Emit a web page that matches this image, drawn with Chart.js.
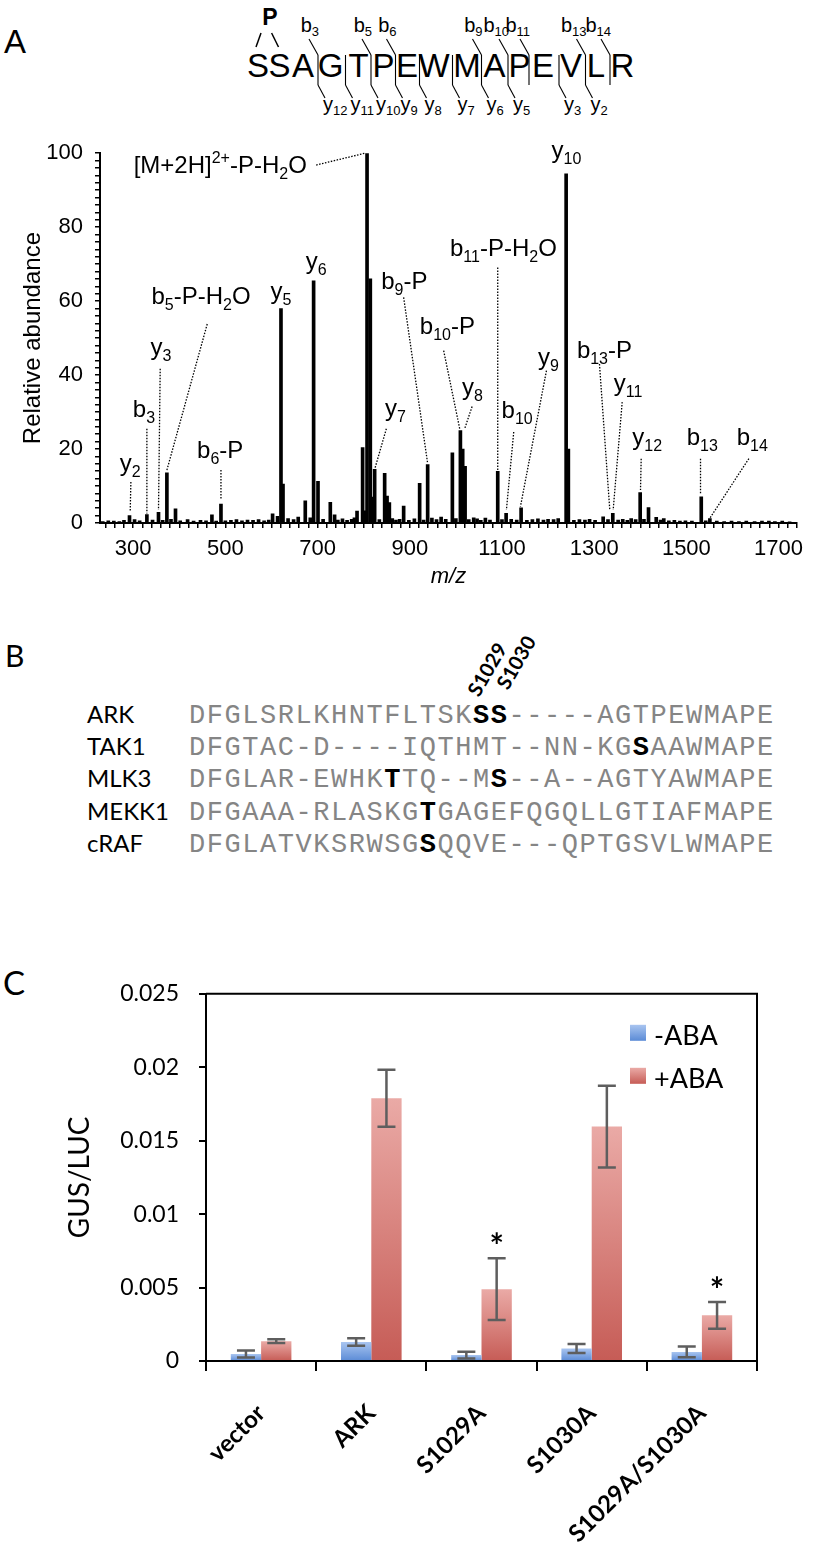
<!DOCTYPE html>
<html>
<head>
<meta charset="utf-8">
<title>ARK S1029/S1030 phosphorylation</title>
<script src="https://cdn.jsdelivr.net/npm/chart.js@4.4.1/dist/chart.umd.min.js"></script>
<style>
  body { margin: 0; background: #fff; }
  #page { position: relative; width: 815px; height: 1546px; overflow: hidden; }
  #art, canvas { position: absolute; left: 0; }
  #art { top: 0; }
  #specChart { top: 128px; }
  #gusChart { top: 960px; }
</style>
</head>
<body>
<div id="page">
  <svg id="art" width="815" height="1546"></svg>
  <canvas id="specChart" width="815" height="470"></canvas>
  <canvas id="gusChart" width="815" height="586"></canvas>
</div>
<script>
// ---------- Panel A data: MS/MS spectrum ----------
const peakMz = [292, 329.7, 354.9, 373.1, 391.8, 470.8, 490.4, 602.4, 613.2, 620.6, 625,
  673.3, 684.2, 691.4, 700.9, 727.6, 736.9, 785.6, 797.7, 802.1, 807.3, 814.4, 819.4, 823.8,
  845.5, 850.7, 855.7, 886.7, 921.4, 938.8, 992.4, 1009.8, 1014.8, 1020, 1038.7, 1090.8, 1109,
  1141.5, 1239.2, 1244, 1319.5, 1340.4, 1380.3, 1399.8, 1417.9, 1434.6, 1451, 1532.3, 1551, 1679];
const peakAbund = [2.0, 2.3, 2.9, 13.6, 3.8, 2.2, 5.1, 2.5, 1.8, 58.0, 10.5,
  6.0, 1.4, 65.5, 11.3, 5.6, 2.2, 3.2, 20.4, 3.3, 100, 66, 7, 14.5,
  13.4, 7.3, 5.5, 4.6, 10.7, 15.8, 19, 25, 20, 15.3, 1.4, 14, 2.6,
  4.1, 94.4, 20, 1.7, 2.6, 1.2, 8.2, 4.2, 1.5, 1.2, 7.1, 1.2, 0.5];
const noiseMz = [234, 246, 258, 270, 280, 303, 314, 342, 364, 382, 402, 418, 431, 446, 458, 480,
  500, 512, 524, 536, 548, 560, 572, 584, 594, 636, 648, 658, 712, 744, 754, 764, 774, 780, 834,
  862, 870, 878, 898, 910, 930, 948, 958, 968, 978, 1000, 1028, 1046, 1054, 1064, 1074, 1100,
  1120, 1132, 1154, 1166, 1178, 1190, 1200, 1212, 1222, 1256, 1268, 1280, 1290, 1302, 1330,
  1352, 1362, 1372, 1390, 1408, 1444, 1462, 1474, 1486, 1498, 1512, 1542, 1566, 1582, 1598,
  1614, 1630, 1648, 1664, 1692, 1708, 1724];
const noiseAbund = [0.4, 0.6, 0.5, 0.4, 0.7, 0.9, 0.6, 0.8, 0.7, 1.0, 0.6, 0.9, 0.5, 0.7, 0.6, 0.5,
  0.6, 0.7, 0.9, 0.6, 0.8, 0.7, 0.9, 0.6, 0.8, 1.2, 0.9, 1.6, 1.0, 0.8, 1.1, 0.7, 1.0, 1.4, 0.9,
  1.2, 0.8, 1.0, 0.7, 1.1, 0.8, 1.3, 0.9, 1.6, 1.0, 1.2, 0.9, 1.1, 0.7, 1.3, 0.8, 0.9,
  1.0, 0.8, 0.7, 0.9, 1.1, 0.8, 1.0, 0.9, 1.2, 0.7, 0.9, 0.8, 1.0, 0.7, 0.9,
  0.8, 1.0, 0.7, 0.9, 1.0, 0.8, 0.6, 0.7, 0.5, 0.6, 0.5, 0.6, 0.5, 0.4, 0.5,
  0.4, 0.5, 0.4, 0.5, 0.4, 0.5, 0.3];

// fragment ion labels: text, label position (m/z, abundance at baseline), leader line
const ionText = ['[M+2H]^{2+}-P-H_{2}O', 'y_{10}', 'y_{5}', 'y_{6}', 'b_{5}-P-H_{2}O', 'y_{3}',
  'b_{3}', 'y_{2}', 'b_{6}-P', 'y_{7}', 'b_{9}-P', 'b_{10}-P', 'y_{8}', 'b_{11}-P-H_{2}O',
  'b_{10}', 'y_{9}', 'b_{13}-P', 'y_{11}', 'y_{12}', 'b_{13}', 'b_{14}'];
const ionLabelMz = [488.8, 1239.9, 620.8, 696.8, 447.2, 360.3, 323.4, 293.5, 488.8, 868.7,
  888.2, 981.6, 1035.8, 1103.1, 1132.9, 1200.8, 1322.3, 1373.4, 1415.0, 1534.4, 1642.9];
const ionLabelAbund = [94.6, 98.8, 60.6, 68.7, 59.3, 45.3, 28.6, 14.0, 17.5, 28.8, 63.3,
  51.2, 34.5, 72.2, 28.3, 42.6, 44.5, 35.6, 21.0, 21.0, 21.0];
const ionLines = [
  [697, 96.8, 803, 100], null, null, null,
  [460.6, 53.8, 373.1, 14.3], [358.6, 41.7, 354.9, 3.5], [329.7, 25.5, 329.7, 2.6],
  [295.0, 11.1, 293.5, 3.0], [490.4, 14.3, 490.4, 6.2], [849.2, 25.5, 823.8, 14.5],
  [886.7, 61.0, 938.8, 16.1], [973.5, 46.6, 1008.3, 25.5], [1035.2, 31.5, 1019.1, 25.5],
  [1090.8, 69.1, 1090.8, 14.3], [1125.5, 24.6, 1109.6, 3.5], [1196.5, 41.2, 1140.0, 4.4],
  [1311.5, 43.0, 1333.9, 3.5], [1360.8, 32.7, 1341.2, 3.5], [1402.0, 17.4, 1400.5, 8.9],
  [1530.7, 17.4, 1530.7, 8.0], [1635.6, 17.4, 1550.9, 1.3]];

// peptide fragmentation map
const peptide = 'SSAGTPEWMAPEVLR';
const bIons = [3, 5, 6, 9, 10, 11, 13, 14];
const yIonSites = [3, 4, 5, 6, 7, 8, 9, 10, 12, 13];

// ---------- Panel B data: alignment ----------
const alignNames = ['ARK', 'TAK1', 'MLK3', 'MEKK1', 'cRAF'];
const alignSeqs = [
  'DFGLSRLKHNTFLTSKSS-----AGTPEWMAPE',
  'DFGTAC-D----IQTHMT--NN-KGSAAWMAPE',
  'DFGLAR-EWHKTTQ--MS--A--AGTYAWMAPE',
  'DFGAAA-RLASKGTGAGEFQGQLLGTIAFMAPE',
  'DFGLATVKSRWSGSQQVE---QPTGSVLWMAPE'];
const alignBold = [[16, 17], [25], [11, 17], [13], [13]];
const siteLabels = ['S1029', 'S1030'];

// ---------- Panel C data: GUS/LUC ----------
const groups = ['vector', 'ARK', 'S1029A', 'S1030A', 'S1029A/S1030A'];
const minusABA = [0.00047, 0.00129, 0.00040, 0.00085, 0.00062];
const minusSD = [0.00024, 0.00026, 0.00023, 0.00030, 0.00037];
const plusABA = [0.00135, 0.01789, 0.00489, 0.01596, 0.00311];
const plusSD = [0.00013, 0.00194, 0.00210, 0.00278, 0.00091];
const significant = [false, false, true, false, true];

const SANS = '"Liberation Sans", Arial, sans-serif';
const CAL = 'Lato, "Open Sans", sans-serif';
const MONO = '"Liberation Mono", "Courier New", monospace';

// ---------- SVG parts (peptide map, panel letters, alignment) ----------
const NS = 'http://www.w3.org/2000/svg';
const art = document.getElementById('art');
function svg(tag, attrs, parent = art, text) {
  const e = document.createElementNS(NS, tag);
  for (const k in attrs) e.setAttribute(k, attrs[k]);
  if (text != null) e.textContent = text;
  parent.appendChild(e);
  return e;
}
function line(x1, y1, x2, y2, w = 1.1) {
  svg('line', { x1, y1, x2, y2, stroke: '#000', 'stroke-width': w });
}

// panel letters
svg('text', { x: 4, y: 53, 'font-size': 33, 'font-family': SANS }, art, 'A');
svg('text', { x: 5, y: 667, 'font-size': 30, 'font-family': CAL }, art, 'B');
svg('text', { x: 3, y: 995, 'font-size': 33, 'font-family': CAL }, art, 'C');

// peptide with cleavage marks
const pepLetterX = [258, 279.5, 303, 330.5, 358.5, 383.5, 407, 434, 467, 494.5, 519.5, 543, 571, 596, 622.5];
const pepSepX = [318, 345.5, 371, 395.5, 419.5, 452.5, 481.5, 508, 529, 559, 585.5, 610];
peptide.split('').forEach((ch, i) => {
  svg('text', { x: pepLetterX[i], y: 77, 'font-size': 33, 'font-family': SANS, 'text-anchor': 'middle' }, art, ch);
});
pepSepX.forEach(sx => line(sx, 55, sx, 85));
svg('text', { x: 270, y: 25, 'font-size': 23, 'font-weight': 'bold', 'font-family': SANS, 'text-anchor': 'middle' }, art, 'P');
line(261, 33, 256, 47, 1.5);
line(271.6, 33, 278.5, 47, 1.5);
function ionTag(x, y, letter, num, anchor) {
  const t = svg('text', { x, y, 'font-size': 20, 'font-family': SANS, 'text-anchor': anchor });
  t.appendChild(document.createTextNode(letter));
  svg('tspan', { dy: 4, 'font-size': 13 }, t, String(num));
}
bIons.forEach(site => {
  const sx = pepSepX[site - 3];
  line(sx - 9, 39, sx, 55);
  ionTag(sx + 1, 32, 'b', site, 'end');
});
yIonSites.forEach(site => {
  const sx = pepSepX[site - 3];
  line(sx, 85, sx + 7, 98);
  ionTag(sx + 5, 111, 'y', peptide.length - site, 'start');
});

// alignment
const seqX = 189, charW = 17.75;
alignNames.forEach((name, r) => {
  const base = 723 + r * 32.2;
  svg('text', { x: 87, y: base, 'font-size': 24, 'font-family': CAL }, art, name);
  const t = svg('text', { y: base, 'font-size': 27, 'font-family': MONO, fill: '#858585' });
  alignSeqs[r].split('').forEach((ch, i) => {
    const bold = alignBold[r].includes(i);
    const attrs = { x: seqX + i * charW };
    if (bold) { attrs['font-weight'] = 'bold'; attrs.fill = '#000'; }
    svg('tspan', attrs, t, ch);
  });
});
[[479, 698], [508, 691]].forEach((p, i) => {
  svg('text', { transform: `translate(${p[0]},${p[1]}) rotate(-60)`, 'font-size': 20,
    'font-weight': 'bold', 'font-family': CAL }, art, siteLabels[i]);
});

// ---------- Panel A chart ----------
function richParts(str) {
  const parts = []; const re = /([_^])\{([^}]*)\}|([^_^]+)/g; let m;
  while ((m = re.exec(str))) {
    if (m[3]) parts.push({ t: m[3], k: 0 });
    else parts.push({ t: m[2], k: m[1] === '_' ? 1 : -1 });
  }
  return parts;
}
function drawRich(ctx, str, cx, base) {
  const parts = richParts(str);
  const fontFor = k => (k === 0 ? '24px ' : '16px ') + SANS;
  let w = 0;
  parts.forEach(p => { ctx.font = fontFor(p.k); p.w = ctx.measureText(p.t).width; w += p.w; });
  let xx = cx - w / 2;
  ctx.textAlign = 'left';
  parts.forEach(p => {
    ctx.font = fontFor(p.k);
    const dy = p.k === 1 ? 6 : p.k === -1 ? -10 : 0;
    ctx.fillText(p.t, xx, base + dy);
    xx += p.w;
  });
}

const ionLabelPlugin = {
  id: 'ionLabels',
  afterDatasetsDraw(chart) {
    const { ctx, scales: { x, y } } = chart;
    ctx.save();
    ctx.fillStyle = '#000';
    ctx.strokeStyle = '#000';
    ctx.lineWidth = 1.3;
    ctx.setLineDash([1.5, 1.5]);
    ionLines.forEach(l => {
      if (!l) return;
      ctx.beginPath();
      ctx.moveTo(x.getPixelForValue(l[0]), y.getPixelForValue(l[1]));
      ctx.lineTo(x.getPixelForValue(l[2]), y.getPixelForValue(l[3]));
      ctx.stroke();
    });
    ctx.setLineDash([]);
    ctx.textBaseline = 'alphabetic';
    ionText.forEach((t, i) => drawRich(ctx, t, x.getPixelForValue(ionLabelMz[i]), y.getPixelForValue(ionLabelAbund[i])));
    ctx.restore();
  }
};

const specPoints = peakMz.map((mz, i) => ({ x: mz, y: peakAbund[i] }))
  .concat(noiseMz.map((mz, i) => ({ x: mz, y: noiseAbund[i] })));

new Chart(document.getElementById('specChart'), {
  type: 'bar',
  data: {
    datasets: [{
      data: specPoints,
      backgroundColor: '#000',
      barThickness: 3,
      grouped: false
    }]
  },
  options: {
    responsive: false,
    animation: false,
    layout: { padding: { top: 23, right: 18, left: 0, bottom: 0 } },
    plugins: { legend: { display: false }, tooltip: { enabled: false } },
    scales: {
      x: {
        type: 'linear', min: 228, max: 1740, offset: false,
        ticks: {
          stepSize: 20, autoSkip: false, minRotation: 0, maxRotation: 0, includeBounds: false,
          callback: v => (v % 200 === 100 ? v : ''),
          color: '#000', font: { family: SANS, size: 22 }, padding: 8
        },
        grid: { drawOnChartArea: false, tickLength: 5, color: '#000', lineWidth: 1.5, offset: false },
        border: { color: '#000', width: 2 },
        title: { display: true, text: 'm/z', color: '#000', font: { family: SANS, size: 22, style: 'italic' }, padding: { top: 0, bottom: 8 } },
        afterFit: s => { s.height = 75; }
      },
      y: {
        min: 0, max: 100,
        ticks: {
          stepSize: 2, autoSkip: false,
          callback: v => (v % 20 === 0 ? v : ''),
          color: '#000', font: { family: SANS, size: 22 }, padding: 12
        },
        grid: { drawOnChartArea: false, tickLength: 5, color: '#000', lineWidth: 1.5 },
        border: { color: '#000', width: 2 },
        title: { display: true, text: 'Relative abundance', color: '#000', font: { family: SANS, size: 24 }, padding: { top: 19, bottom: 0 } },
        afterFit: s => { s.width = 100; }
      }
    }
  },
  plugins: [ionLabelPlugin]
});

// ---------- Panel C chart ----------
const blueTop = '#a9c5f0', blueBottom = '#5b8bd6';
const redTop = '#eaaaa6', redBottom = '#c65c56';

function barGradient(top, bottom) {
  return c => {
    const chart = c.chart;
    if (!chart.chartArea || c.type !== 'data') return bottom;
    const y = chart.scales.y;
    const yTop = y.getPixelForValue(c.parsed.y), yBot = y.getPixelForValue(0);
    if (!(yBot - yTop > 0)) return bottom;
    const g = chart.ctx.createLinearGradient(0, yTop, 0, yBot);
    g.addColorStop(0, top);
    g.addColorStop(1, bottom);
    return g;
  };
}

const gusDecor = {
  id: 'gusDecor',
  afterDatasetsDraw(chart) {
    const { ctx, chartArea: a, scales: { y } } = chart;
    ctx.save();
    // frame top and right
    ctx.strokeStyle = '#000';
    ctx.lineWidth = 2;
    ctx.beginPath();
    ctx.moveTo(a.left, a.top); ctx.lineTo(a.right, a.top); ctx.lineTo(a.right, a.bottom);
    ctx.stroke();
    // error bars
    ctx.strokeStyle = '#5e5e5e';
    ctx.lineWidth = 2.5;
    chart.data.datasets.forEach((ds, di) => {
      chart.getDatasetMeta(di).data.forEach((bar, i) => {
        const hi = y.getPixelForValue(ds.data[i] + ds.sd[i]);
        const lo = y.getPixelForValue(ds.data[i] - ds.sd[i]);
        ctx.beginPath();
        ctx.moveTo(bar.x, hi); ctx.lineTo(bar.x, lo);
        ctx.moveTo(bar.x - 9, hi); ctx.lineTo(bar.x + 9, hi);
        ctx.moveTo(bar.x - 9, lo); ctx.lineTo(bar.x + 9, lo);
        ctx.stroke();
        if (di === 1 && significant[i]) {
          ctx.fillStyle = '#000';
          ctx.font = 'bold 34px ' + CAL;
          ctx.textAlign = 'center';
          ctx.textBaseline = 'middle';
          ctx.fillText('*', bar.x, hi - 11);
        }
      });
    });
    // legend
    chart.data.datasets.forEach((ds, di) => {
      const sy = a.top + 31 + di * 43;
      const g = ctx.createLinearGradient(0, sy, 0, sy + 16);
      g.addColorStop(0, di === 0 ? blueTop : redTop);
      g.addColorStop(1, di === 0 ? blueBottom : redBottom);
      ctx.fillStyle = g;
      ctx.fillRect(a.right - 127, sy, 16, 16);
      ctx.fillStyle = '#000';
      ctx.font = '27px ' + CAL;
      ctx.textAlign = 'left';
      ctx.textBaseline = 'alphabetic';
      ctx.fillText(ds.label, a.right - 103, sy + 20);
    });
    ctx.restore();
  }
};

new Chart(document.getElementById('gusChart'), {
  type: 'bar',
  data: {
    labels: groups,
    datasets: [
      { label: '-ABA', data: minusABA, sd: minusSD, backgroundColor: barGradient(blueTop, blueBottom) },
      { label: '+ABA', data: plusABA, sd: plusSD, backgroundColor: barGradient(redTop, redBottom) }
    ]
  },
  options: {
    responsive: false,
    animation: false,
    categoryPercentage: 0.55,
    barPercentage: 1,
    layout: { padding: { top: 26, right: 58, left: 0, bottom: 0 } },
    plugins: { legend: { display: false }, tooltip: { enabled: false } },
    scales: {
      x: {
        ticks: { color: '#000', font: { family: CAL, size: 24, weight: 'bold' }, minRotation: 45, maxRotation: 45, padding: 28 },
        grid: { drawOnChartArea: false, tickLength: 10, color: '#000', lineWidth: 2 },
        border: { color: '#000', width: 2 },
        afterFit: s => { s.height = 185; }
      },
      y: {
        min: 0, max: 0.025,
        ticks: {
          stepSize: 0.005,
          callback: v => (v === 0 ? '0' : String(+v.toFixed(3))),
          color: '#000', font: { family: CAL, size: 23 }, padding: 20
        },
        grid: { drawOnChartArea: false, tickLength: 7, color: '#000', lineWidth: 2 },
        border: { color: '#000', width: 2 },
        title: { display: true, text: 'GUS/LUC', color: '#000', font: { family: CAL, size: 28 }, padding: { top: 63, bottom: 0 } },
        afterFit: s => { s.width = 206; }
      }
    }
  },
  plugins: [gusDecor]
});
</script>
</body>
</html>
